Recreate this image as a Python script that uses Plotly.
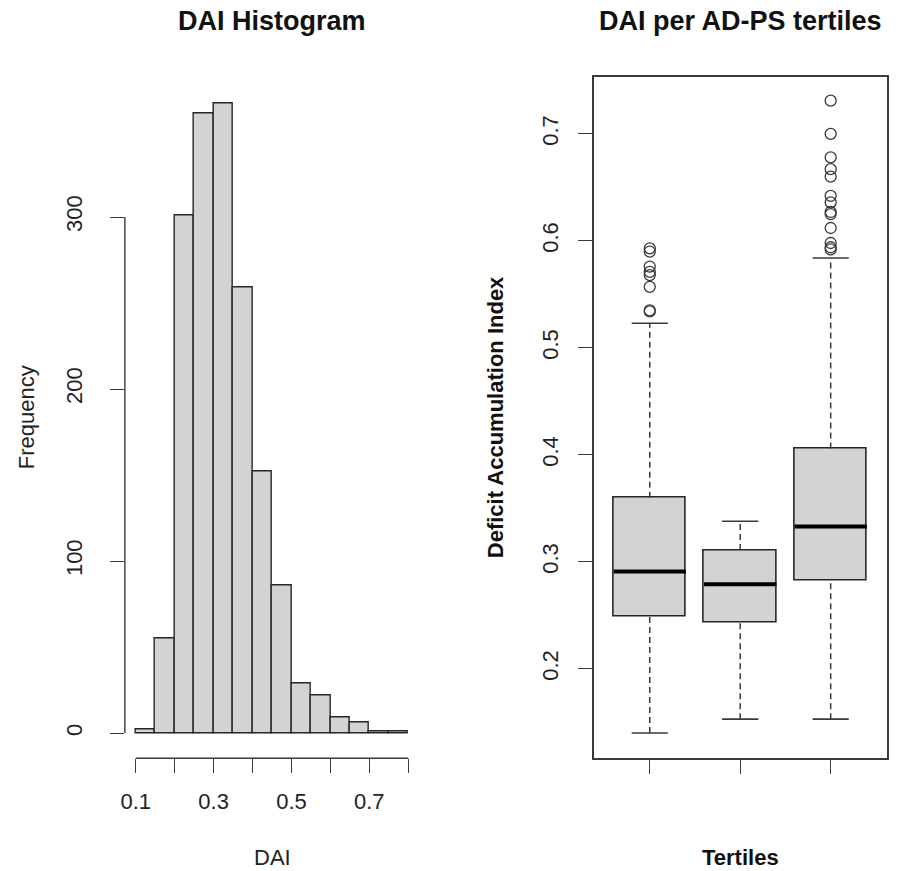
import plotly.graph_objects as go

# ---------------- data ----------------
# Histogram of DAI (bin width 0.05)
bin_left = [0.10, 0.15, 0.20, 0.25, 0.30, 0.35, 0.40, 0.45, 0.50, 0.55, 0.60, 0.65, 0.70, 0.75]
bin_width = 0.05
bin_counts = [2, 55, 301, 360, 366, 259, 152, 86, 29, 22, 9, 6, 1, 1]
hist_xticks = [0.1, 0.2, 0.3, 0.4, 0.5, 0.6, 0.7, 0.8]
hist_xlabels = ["0.1", "", "0.3", "", "0.5", "", "0.7", ""]
hist_yticks = [0, 100, 200, 300]

# Boxplot per tertile
tertiles = [1, 2, 3]
q1 = [0.249, 0.243, 0.283]
median = [0.291, 0.279, 0.333]
q3 = [0.360, 0.311, 0.406]
whisk_lo = [0.140, 0.153, 0.153]
whisk_hi = [0.523, 0.338, 0.584]
outliers_t1 = [0.593, 0.590, 0.576, 0.571, 0.568, 0.557, 0.535, 0.534]
outliers_t3 = [0.731, 0.700, 0.678, 0.667, 0.660, 0.642, 0.636, 0.627, 0.625,
               0.612, 0.598, 0.594, 0.592]
box_yticks = [0.2, 0.3, 0.4, 0.5, 0.6, 0.7]

# ---------------- styling ----------------
FONT = "Liberation Sans, Arial, Helvetica, sans-serif"
FILL = "#d3d3d3"
LINE = "#262626"
AX = "#3a3a3a"
BOXW = 0.8
CAPW = 0.4

W, H = 901, 871
plot_top, plot_bottom = 76.5, 758.3
ydom = [(H - plot_bottom) / H, (H - plot_top) / H]
hist_dom = [121.4 / W, 417.0 / W]
box_dom = [592.3 / W, 886.7 / W]

fig = go.Figure()

# Histogram bars
fig.add_trace(go.Bar(
    x=[b + bin_width / 2 for b in bin_left], y=bin_counts, width=bin_width,
    marker=dict(color=FILL, line=dict(color=LINE, width=1.4)),
    xaxis="x", yaxis="y", showlegend=False, hoverinfo="x+y"))

# Boxes (Q1..Q3)
fig.add_trace(go.Bar(
    x=tertiles, base=q1, y=[b - a for a, b in zip(q1, q3)], width=BOXW,
    marker=dict(color=FILL, line=dict(color=LINE, width=1.6)),
    xaxis="x2", yaxis="y2", showlegend=False))

# Whiskers (dashed)
wx, wy = [], []
for t, a, lo, b, hi in zip(tertiles, q1, whisk_lo, q3, whisk_hi):
    wx += [t, t, None, t, t, None]
    wy += [lo, a, None, b, hi, None]
fig.add_trace(go.Scatter(x=wx, y=wy, mode="lines", xaxis="x2", yaxis="y2",
                         line=dict(color=AX, width=1.5, dash="6px,4px"),
                         showlegend=False, hoverinfo="skip"))
# Caps
cx, cy = [], []
for t, lo, hi in zip(tertiles, whisk_lo, whisk_hi):
    cx += [t - CAPW / 2, t + CAPW / 2, None, t - CAPW / 2, t + CAPW / 2, None]
    cy += [lo, lo, None, hi, hi, None]
fig.add_trace(go.Scatter(x=cx, y=cy, mode="lines", xaxis="x2", yaxis="y2",
                         line=dict(color=AX, width=1.6),
                         showlegend=False, hoverinfo="skip"))
# Medians
mx, my = [], []
for t, m in zip(tertiles, median):
    mx += [t - BOXW / 2, t + BOXW / 2, None]
    my += [m, m, None]
fig.add_trace(go.Scatter(x=mx, y=my, mode="lines", xaxis="x2", yaxis="y2",
                         line=dict(color="#000000", width=4),
                         showlegend=False, hoverinfo="skip"))
# Outliers
fig.add_trace(go.Scatter(
    x=[tertiles[0]] * len(outliers_t1) + [tertiles[2]] * len(outliers_t3),
    y=outliers_t1 + outliers_t3, mode="markers", xaxis="x2", yaxis="y2",
    marker=dict(symbol="circle-open", size=11, color=AX, line=dict(width=1.3)),
    showlegend=False))

tickfont = dict(family=FONT, size=22, color="#222222")

fig.update_layout(
    width=W, height=H,
    margin=dict(l=0, r=0, t=0, b=0),
    paper_bgcolor="white", plot_bgcolor="white",
    bargap=0,
    xaxis=dict(domain=hist_dom, range=[0.072, 0.828], showgrid=False, zeroline=False,
               showline=False, ticks="outside", ticklen=14, tickwidth=1.4, tickcolor=AX,
               tickvals=hist_xticks, ticktext=hist_xlabels, tickfont=tickfont,
               anchor="y", ticklabelstandoff=9),
    yaxis=dict(domain=ydom, range=[-14.68, 381.68], showgrid=False, zeroline=False,
               showline=False, ticks="outside", ticklen=14, tickwidth=1.4, tickcolor=AX,
               tickvals=hist_yticks, tickangle=-90, tickfont=tickfont, anchor="x",
               ticklabelstandoff=19),
    xaxis2=dict(domain=box_dom, range=[0.38, 3.62], showgrid=False, zeroline=False,
                showline=True, mirror=True, linecolor=AX, linewidth=1.6,
                ticks="outside", ticklen=14, tickwidth=1.4, tickcolor=AX,
                tickvals=tertiles, showticklabels=False, anchor="y2"),
    yaxis2=dict(domain=ydom, range=[0.1164, 0.7536], showgrid=False, zeroline=False,
                showline=True, mirror=True, linecolor=AX, linewidth=1.6,
                ticks="outside", ticklen=14, tickwidth=1.4, tickcolor=AX,
                tickvals=box_yticks, tickformat=".1f", tickangle=-90,
                tickfont=tickfont, anchor="x2", ticklabelstandoff=11),
    shapes=[
        # histogram x-axis line spanning the tick range
        dict(type="line", xref="x", yref="y domain", x0=min(hist_xticks), x1=max(hist_xticks),
             y0=0, y1=0, line=dict(color=AX, width=1.4)),
        # histogram y-axis line spanning the tick range
        dict(type="line", xref="x domain", yref="y", x0=0, x1=0,
             y0=min(hist_yticks), y1=max(hist_yticks), line=dict(color=AX, width=1.4)),
    ],
    annotations=[
        dict(text="<b>DAI Histogram</b>", xref="paper", yref="paper",
             x=sum(hist_dom) / 2, y=(H - 21) / H, xanchor="center", yanchor="middle",
             showarrow=False, font=dict(family=FONT, size=27, color="#111111")),
        dict(text="<b>DAI per AD-PS tertiles</b>", xref="paper", yref="paper",
             x=sum(box_dom) / 2, y=(H - 21) / H, xanchor="center", yanchor="middle",
             showarrow=False, font=dict(family=FONT, size=27, color="#111111")),
        dict(text="DAI", xref="paper", yref="paper",
             x=sum(hist_dom) / 2, y=(H - 857) / H, xanchor="center", yanchor="middle",
             showarrow=False, font=dict(family=FONT, size=22, color="#222222")),
        dict(text="<b>Tertiles</b>", xref="paper", yref="paper",
             x=sum(box_dom) / 2, y=(H - 857) / H, xanchor="center", yanchor="middle",
             showarrow=False, font=dict(family=FONT, size=22, color="#111111")),
        dict(text="Frequency", xref="paper", yref="paper",
             x=23 / W, y=sum(ydom) / 2, xanchor="center", yanchor="middle", textangle=-90,
             showarrow=False, font=dict(family=FONT, size=22, color="#222222")),
        dict(text="<b>Deficit Accumulation Index</b>", xref="paper", yref="paper",
             x=494 / W, y=sum(ydom) / 2, xanchor="center", yanchor="middle", textangle=-90,
             showarrow=False, font=dict(family=FONT, size=22, color="#111111")),
    ],
)

fig.write_html("out.html", config={"displayModeBar": False},
               post_script="document.body.style.margin='0';document.body.style.overflow='hidden';")
